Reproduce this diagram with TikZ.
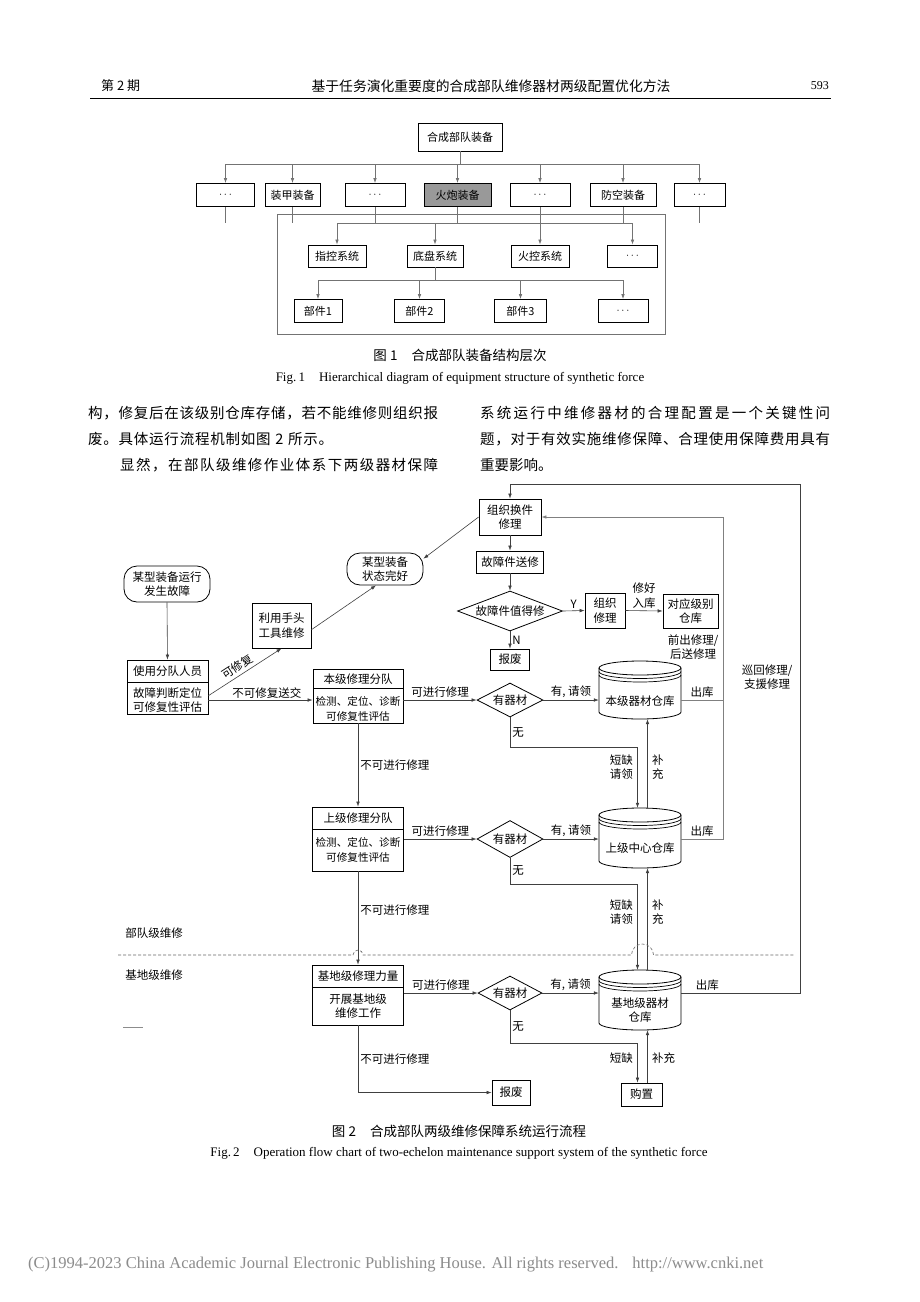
\documentclass[tikz,border=0pt]{standalone}
\usepackage{fontspec}
\setmainfont{Liberation Serif}
\newfontfamily\cjk{Noto Sans CJK SC}
\usetikzlibrary{arrows.meta,shapes.geometric,calc}
\newcommand\ftx{\cjk\fontsize{11.5}{14.5}\selectfont}
\newcommand\fts{\cjk\fontsize{10.6}{14.5}\selectfont}
\newcommand\fta{\cjk\fontsize{11}{13}\selectfont}
\newcommand\fbody{\cjk\fontsize{14.5}{17}\selectfont}
\makeatletter
\def\spr#1{\spr@a#1\relax}
\def\spr@a#1{#1\spr@b}
\def\spr@b#1{\ifx\relax#1\else\hfil#1\expandafter\spr@b\fi}
\makeatother
\newcommand\cylnode[6]{%
  \node[inner sep=0, minimum width=82, minimum height={#4-#3}] (#1) at (#2,{(#3+#4)/2}) {};
  \draw[line width=0.8pt] (#2-41,#3+7) -- (#2-41,#4-7) arc[start angle=180, end angle=360, x radius=41pt, y radius=7pt] -- (#2+41,#3+7);
  \draw[line width=0.8pt] (#2,#3+7) ellipse [x radius=41pt, y radius=7pt];
  \draw[line width=0.7pt] (#2-41,#3+10.5) arc[start angle=180, end angle=360, x radius=41pt, y radius=7pt];
  \draw[line width=0.7pt] (#2-41,#3+14) arc[start angle=180, end angle=360, x radius=41pt, y radius=7pt];
  \node[txt] (#1t) at (#2,#5) {#6};
}
\begin{document}
\begin{tikzpicture}[x=1pt,y=-1pt,
  box/.style={draw, line width=0.8pt, inner sep=1pt, align=center, font=\ftx},
  rbox/.style={box, rounded corners=13pt},
  fbox/.style={draw, line width=0.8pt, inner sep=1pt, align=center, font=\fta},
  dia/.style={draw, line width=0.8pt, diamond, inner sep=0, align=center, font=\ftx},
  txt/.style={font=\ftx, align=center, inner sep=0},
  stxt/.style={font=\fts, align=center, inner sep=0},
  lbl/.style={font=\ftx, align=center, inner sep=2pt},
  fline/.style={line width=0.7pt, draw=black!55},
  farr/.style={fline, -{Latex[length=5pt,width=3.6pt]}},
  cline/.style={line width=0.6pt, draw=black!75},
  arr/.style={cline, -{Latex[length=5pt,width=3.6pt]}},
  gline/.style={line width=0.7pt, draw=black!50},
  garr/.style={gline, -{Latex[length=5pt,width=3.6pt]}},
]
\fill[white] (0,0) rectangle (920,1302);
\useasboundingbox (0,0) rectangle (920,1302);

% ---------- header ----------
\node[anchor=west, font=\cjk\fontsize{13}{15}\selectfont, inner sep=0] (h1) at (101,86) {第 2 期};
\node[font=\cjk\fontsize{13.8}{16}\selectfont, inner sep=0] (h2) at (491,86) {基于任务演化重要度的合成部队维修器材两级配置优化方法};
\node[anchor=east, font=\fontsize{12}{14}\selectfont, inner sep=0] (h3) at (829,86) {593};
\draw[line width=1pt] (90,98) -- (831,98);

% ---------- figure 1 ----------
\node[fbox, minimum width=84, minimum height=28] (top) at (460,137) {合成部队装备};
\node[fbox, minimum width=58, minimum height=23] (a1) at (225.5,195) {$\cdots$};
\node[fbox, minimum width=55, minimum height=23] (a2) at (292.5,195) {装甲装备};
\node[fbox, minimum width=60, minimum height=23] (a3) at (375,195) {$\cdots$};
\node[fbox, fill=black!40, minimum width=67, minimum height=23] (a4) at (457.5,195) {火炮装备};
\node[fbox, minimum width=60, minimum height=23] (a5) at (540,195) {$\cdots$};
\node[fbox, minimum width=66, minimum height=23] (a6) at (623,195) {防空装备};
\node[fbox, minimum width=51, minimum height=23] (a7) at (699.5,195) {$\cdots$};
\coordinate (b1) at (460,164);
\draw[fline] (top.south) -- (b1);
\draw[fline] (a1.north |- b1) -- (a7.north |- b1);
\foreach \i in {1,...,7} \draw[farr] (a\i.north |- b1) -- (a\i.north);
\node[draw=black!55, line width=0.7pt, minimum width=388, minimum height=120, inner sep=0] (frame) at (471,274) {};
\coordinate (b2) at (0,223);
\foreach \i in {1,...,7} \draw[fline] (a\i.south) -- (a\i.south |- b2);
\node[fbox, minimum width=58, minimum height=22] (s1) at (337,256) {指控系统};
\node[fbox, minimum width=56, minimum height=22] (s2) at (435,256) {底盘系统};
\node[fbox, minimum width=58, minimum height=22] (s3) at (540,256) {火控系统};
\node[fbox, minimum width=50, minimum height=22] (s4) at (632.5,256) {$\cdots$};
\draw[fline] (s1.north |- b2) -- (s4.north |- b2);
\foreach \i in {1,...,4} \draw[farr] (s\i.north |- b2) -- (s\i.north);
\node[fbox, minimum width=48, minimum height=23] (p1) at (318,311) {部件1};
\node[fbox, minimum width=50, minimum height=23] (p2) at (419.5,311) {部件2};
\node[fbox, minimum width=52, minimum height=23] (p3) at (520.5,311) {部件3};
\node[fbox, minimum width=50, minimum height=23] (p4) at (623,311) {$\cdots$};
\coordinate (b3) at (0,280);
\draw[fline] (s2.south) -- (s2.south |- b3);
\draw[fline] (p1.north |- b3) -- (p4.north |- b3);
\foreach \i in {1,...,4} \draw[farr] (p\i.north |- b3) -- (p\i.north);
\node[font=\cjk\fontsize{13.5}{16}\selectfont] (cap1) at (460,355) {图 1\hspace{14pt}合成部队装备结构层次};
\node[font=\fontsize{13}{15}\selectfont] (cap1e) at (460,378) {Fig.\,1\hspace{14pt}Hierarchical diagram of equipment structure of synthetic force};

% ---------- body text ----------
\node[anchor=west, font=\fbody, inner sep=0] (t1) at (88,413) {\makebox[350pt][s]{\spr{构，修复后在该级别仓库存储，若不能维修则组织报}}};
\node[anchor=west, font=\fbody, inner sep=0] (t2) at (88,439) {\makebox[245pt][s]{\spr{废。具体运行流程机制如图~2~所示。}}};
\node[anchor=west, font=\fbody, inner sep=0] (t3) at (120,465) {\makebox[318pt][s]{\spr{显然，在部队级维修作业体系下两级器材保障}}};
\node[anchor=west, font=\fbody, inner sep=0] (t4) at (480,413) {\makebox[350pt][s]{\spr{系统运行中维修器材的合理配置是一个关键性问}}};
\node[anchor=west, font=\fbody, inner sep=0] (t5) at (480,439) {\makebox[350pt][s]{\spr{题，对于有效实施维修保障、合理使用保障费用具有}}};
\node[anchor=west, font=\fbody, inner sep=0] (t6) at (480,465) {重要影响。};

% ---------- figure 2 : nodes ----------
\node[box, minimum width=62, minimum height=36] (A) at (510,517) {组织换件\\修理};
\node[box, minimum width=67, minimum height=22] (B) at (510,562) {故障件送修};
\node[dia, minimum width=105, minimum height=40, shape aspect=2.6] (C) at (510,611) {故障件值得修};
\node[box, minimum width=40, minimum height=35] (D) at (605,610.5) {组织\\修理};
\node[box, minimum width=55, minimum height=34] (E) at (690.5,611) {对应级别\\仓库};
\node[box, minimum width=39, minimum height=21] (F) at (510,659.5) {报废};
\node[rbox, minimum width=86, minimum height=36] (G) at (167,584) {某型装备运行\\发生故障};
\node[rbox, minimum width=76, minimum height=32] (H) at (385,569) {某型装备\\状态完好};
\node[box, minimum width=59, minimum height=45] (I) at (281.5,625.5) {利用手头\\工具维修};

\node[box, minimum width=81, minimum height=54] (J) at (167.5,687) {};
\draw[line width=0.8pt] (127,682) -- (208,682);
\node[txt] (Jt) at (167.5,671) {使用分队人员};
\node[txt] (Jb) at (167.5,700) {故障判断定位\\可修复性评估};

\node[box, minimum width=90, minimum height=54] (K) at (358,696) {};
\draw[line width=0.8pt] (313,688) -- (403,688);
\node[txt] (Kt) at (358,679) {本级修理分队};
\node[stxt] (Kb) at (358,709) {检测、定位、诊断\\可修复性评估};

\node[box, minimum width=91, minimum height=64] (N) at (358,839) {};
\draw[line width=0.8pt] (312.5,829) -- (403.5,829);
\node[txt] (Nt) at (358,818) {上级修理分队};
\node[stxt] (Nb) at (358,850) {检测、定位、诊断\\可修复性评估};

\node[box, minimum width=91, minimum height=60] (Q) at (358,995) {};
\draw[line width=0.8pt] (312.5,987) -- (403.5,987);
\node[txt] (Qt) at (358,976) {基地级修理力量};
\node[txt] (Qb) at (358,1006) {开展基地级\\维修工作};

\node[dia, minimum width=66, minimum height=34, shape aspect=1.95] (L) at (510,700) {有器材};
\node[dia, minimum width=66, minimum height=37, shape aspect=1.8] (O) at (510,839) {有器材};
\node[dia, minimum width=64, minimum height=34, shape aspect=1.9] (R) at (510,993) {有器材};

\cylnode{M}{640}{661}{719}{701}{本级器材仓库}
\cylnode{P}{640}{808}{868}{848}{上级中心仓库}
\cylnode{S}{640}{970}{1030}{1010}{基地级器材\\仓库}

\node[box, minimum width=38, minimum height=25] (T) at (511,1092.5) {报废};
\node[box, minimum width=41, minimum height=23] (U) at (641.5,1094.5) {购置};

% ---------- figure 2 : connectors ----------
\draw[arr] (A.south) -- (B.north);
\draw[arr] (B.south) -- (C.north);
\draw[arr] (C.east) -- node[above, lbl]{Y} (D.west);
\draw[arr] (D.east) -- node[above, lbl]{修好\\入库} (E.west);
\draw[arr] (C.south) -- node[right, lbl]{N} (F.north);
\draw[arr] (A.west) -- (H.15);
\draw[arr] (G.south) -- (J.north);
\draw[arr] (J.-12) -- node[sloped, above=3pt, pos=0.46, lbl, inner sep=0pt]{可修复} (I.south);
\draw[arr] (I.-8) -- ($(H.south)+(-9,0)$);

\draw[arr] (J.east |- L.west) -- node[above, lbl, pos=0.56, inner sep=1pt]{不可修复送交} (K.west |- L.west);
\draw[arr] (K.east |- L.west) -- node[above, lbl]{可进行修理} (L.west);
\draw[arr] (L.east) -- node[above, lbl]{有, 请领} (M.west |- L.east);

\draw[arr] (N.east |- O.west) -- node[above, lbl]{可进行修理} (O.west);
\draw[arr] (O.east) -- node[above, lbl]{有, 请领} (P.west |- O.east);

\draw[arr] (Q.east |- R.west) -- node[above, lbl]{可进行修理} (R.west);
\draw[arr] (R.east) -- node[above, lbl]{有, 请领} (S.west |- R.east);

\coordinate (gR) at (723,517);
\draw[gline] (M.east |- L.east) -- node[above, lbl]{出库} (gR |- L.east);
\draw[garr] (P.east |- O.east) -- node[above, lbl]{出库} (gR |- O.east) -- (gR) -- (A.east);

\coordinate (loopR) at (800,484);
\draw[arr] (S.east |- R.east) -- node[above, lbl, pos=0.22]{出库} (loopR |- R.east) -- (loopR) -- (A.north |- loopR) -- (A.north);

\node[lbl] (lq1) at (693,647) {前出修理/\\后送修理};
\node[lbl] (lq2) at (767,677) {巡回修理/\\支援修理};

\coordinate (w1) at (637.5,747);
\coordinate (w2) at (637.5,884);
\coordinate (w3) at (637.5,1043);
\coordinate (v1) at (647.5,0);
\draw[arr] (L.south) -- node[right, lbl]{无} (L.south |- w1) -- (w1) -- (w1 |- P.north);
\draw[arr] (v1 |- P.north) -- (v1 |- M.south);
\node[lbl, anchor=east] (sq1) at (635,767) {短缺\\请领};
\node[lbl, anchor=west] (bc1) at (650,767) {补\\充};

\draw[arr] (O.south) -- node[right, lbl]{无} (O.south |- w2) -- (w2) -- (w2 |- S.north);
\draw[arr] (v1 |- S.north) -- (v1 |- P.south);
\node[lbl, anchor=east] (sq2) at (635,912) {短缺\\请领};
\node[lbl, anchor=west] (bc2) at (650,912) {补\\充};

\draw[arr] (R.south) -- node[right, lbl]{无} (R.south |- w3) -- (w3) -- (w3 |- U.north);
\draw[arr] (v1 |- U.north) -- (v1 |- S.south);
\node[lbl, anchor=east] (sq3) at (635,1058) {短缺};
\node[lbl, anchor=west] (bc3) at (650,1058) {补充};

\draw[arr] (K.south) -- node[right, lbl]{不可进行修理} (N.north);
\draw[arr] (N.south) -- node[right, lbl, pos=0.42]{不可进行修理} (Q.north);
\draw[arr] (Q.south) -- node[right, lbl]{不可进行修理} (Q.south |- T.west) -- (T.west);

% level divider
\draw[black!60, line width=0.6pt, dash pattern=on 3pt off 2pt] (118,955) -- (353,955) arc[start angle=180, end angle=0, radius=5pt] -- (631.5,955) arc[start angle=180, end angle=0, radius=11pt] -- (795,955);
\node[lbl] (lv1) at (154,933) {部队级维修};
\node[lbl] (lv2) at (154,975) {基地级维修};
\draw[black!45, line width=0.7pt] (123,1027) -- (143,1027);

\node[font=\cjk\fontsize{13.5}{16}\selectfont] (cap2) at (459,1131) {图 2\hspace{14pt}合成部队两级维修保障系统运行流程};
\node[font=\fontsize{13}{15}\selectfont] (cap2e) at (459,1153) {Fig.\,2\hspace{14pt}Operation flow chart of two-echelon maintenance support system of the synthetic force};

% ---------- footer ----------
\node[anchor=west, font=\fontsize{16.5}{19}\selectfont, text=black!45, inner sep=0] (foot) at (28,1265) {(C)1994-2023 China Academic Journal Electronic Publishing House. All rights reserved.\hspace{14pt}http://www.cnki.net};
\end{tikzpicture}
\end{document}
